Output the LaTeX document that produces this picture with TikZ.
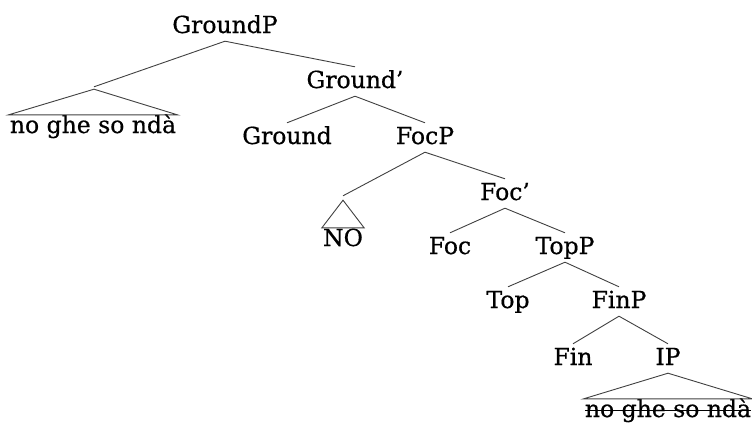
\documentclass[tikz,border=0pt]{standalone}
\usepackage{fontspec}
\setmainfont{DejaVu Serif}[FakeBold=0.6]

% struck-out text
\newsavebox{\strikebox}
\newcommand{\strikeout}[1]{\sbox{\strikebox}{#1}\rlap{\rule[0.5ex]{\wd\strikebox}{1.1pt}}\usebox{\strikebox}}

\begin{document}
\begin{tikzpicture}[x=1pt, y=-1pt, font=\fontsize{23.5}{28}\selectfont,
    cat/.style={anchor=base, inner xsep=1pt, inner ysep=4pt, text height=17pt, text depth=4pt},
    leaf/.style={anchor=base, inner xsep=1pt, inner ysep=1pt, text height=17pt, text depth=4pt},
    branch/.style={color=black!75, line width=0.9pt}]

    \useasboundingbox (0,0) rectangle (752,423);

    % baselines of the levels
    \def\lA{33}
    \def\lB{88}
    \def\lC{144}
    \def\lD{200}
    \def\lE{254}
    \def\lF{308}
    \def\lG{365}

    % labels
    \node[cat] (groundp) at (225,\lA) {GroundP};
    \node[cat] (groundbar) at (355,\lB) {Ground'};
    \node[cat] (ground) at (287,\lC) {Ground};
    \node[cat] (focp) at (425,\lC) {FocP};
    \node[cat] (focbar) at (505,\lD) {Foc'};
    \node[cat] (foc) at (450,\lE) {Foc};
    \node[cat] (topp) at (565,\lE) {TopP};
    \node[cat] (top) at (508,\lF) {Top};
    \node[cat] (finp) at (619,\lF) {FinP};
    \node[cat] (fin) at (573,\lG) {Fin};
    \node[cat] (ip) at (668,\lG) {IP};

    % empty specifiers
    \node[inner sep=1pt] (groundspec) at (94,88) {};
    \node[inner sep=2pt] (focspec) at (343,198) {};

    % leaves under triangles
    \node[leaf] (groundtxt) at (93,133) {no ghe so ndà};
    \node[leaf] (focus) at (343,246) {NO};
    \node[leaf] (iptxt) at (668,417) {\strikeout{no ghe so ndà}};

    % branches
    \draw[branch] (groundp.south) -- (groundspec.north);
    \draw[branch] (groundp.south) -- (groundbar.north);
    \draw[branch] (groundbar.south) -- (ground.north);
    \draw[branch] (groundbar.south) -- (focp.north);
    \draw[branch] (focp.south) -- (focspec.north);
    \draw[branch] (focp.south) -- (focbar.north);
    \draw[branch] (focbar.south) -- (foc.north);
    \draw[branch] (focbar.south) -- (topp.north);
    \draw[branch] (topp.south) -- (top.north);
    \draw[branch] (topp.south) -- (finp.north);
    \draw[branch] (finp.south) -- (fin.north);
    \draw[branch] (finp.south) -- (ip.north);

    % triangles
    \draw[branch] (groundspec.south) -- (groundtxt.north west) -- (groundtxt.north east) -- cycle;
    \draw[branch] (focspec.south) -- (focus.north west) -- (focus.north east) -- cycle;
    \draw[branch] (ip.south) -- (iptxt.north west) -- (iptxt.north east) -- cycle;

\end{tikzpicture}
\end{document}
